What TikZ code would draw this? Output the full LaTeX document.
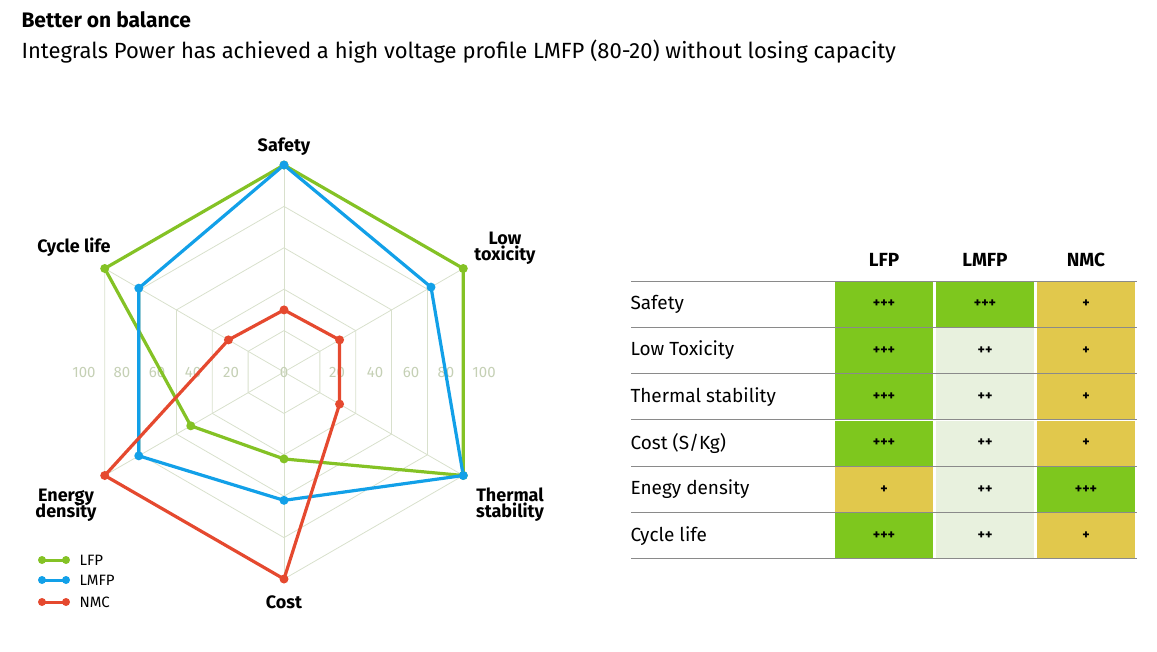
\documentclass[tikz,border=0pt]{standalone}
\usepackage{fontspec}
\setmainfont{Fira Sans}
\definecolor{lfpc}{HTML}{84C225}
\definecolor{lmfpc}{HTML}{12A0E8}
\definecolor{nmcc}{HTML}{E5492F}
\definecolor{gridc}{HTML}{D8E0CC}
\definecolor{numc}{HTML}{C5D0B5}
\definecolor{cg}{HTML}{7EC71E}
\definecolor{cl}{HTML}{E8F1DE}
\definecolor{cy}{HTML}{E1C84C}
\definecolor{rulec}{HTML}{8A8A8A}
\begin{document}
\begin{tikzpicture}[x=1pt,y=1pt,
  series/.style={line width=3.2pt,line join=round},
  dot/.style={circle,fill,inner sep=0pt,minimum size=9pt},
  axlab/.style={font=\fontsize{18}{19}\selectfont\bfseries,align=center},
  num/.style={text=numc,font=\fontsize{15}{16}\selectfont},
  cell/.style={minimum width=98pt,minimum height=45pt,inner sep=0pt,font=\fontsize{14}{15}\selectfont\bfseries},
  rowlab/.style={anchor=west,font=\fontsize{19}{20}\selectfont},
  hdr/.style={font=\fontsize{19}{20}\selectfont\bfseries}]
\useasboundingbox (0,0) rectangle (1157,-651);
\node[anchor=west,font=\fontsize{21}{22}\selectfont\bfseries] (title) at (18,-20) {Better on balance};
\node[anchor=west,font=\fontsize{22}{23}\selectfont] (sub) at (18,-52) {Integrals Power has achieved a high voltage profile LMFP (80-20) without losing capacity};
\begin{scope}[shift={(284,-372)}]
  \foreach \r in {1,2,3,4,5}{
    \draw[gridc,line width=0.8pt] (90:\r*41.4pt)--(30:\r*41.4pt)--(-30:\r*41.4pt)--(-90:\r*41.4pt)--(-150:\r*41.4pt)--(150:\r*41.4pt)--cycle;}
  \foreach \a in {90,30,-30,-90,-150,150}{\draw[gridc,line width=0.8pt] (0,0)--(\a:207pt);}
  \node[num] (n0) at (0,0) {0};
  \foreach \v/\d in {20/53,40/91,60/127,80/162,100/200}{
    \node[num] (nr\v) at (\d,0) {\v};
    \node[num] (nl\v) at (-\d,0) {\v};}
  \foreach \n/\a/\v in {1/90/100,2/30/100,3/-30/100,4/-90/42,5/-150/52,6/150/100}{\coordinate (l\n) at (\a:\v*2.07pt);}
  \foreach \n/\a/\v in {1/90/100,2/30/82,3/-30/100,4/-90/62,5/-150/81,6/150/81}{\coordinate (m\n) at (\a:\v*2.07pt);}
  \foreach \n/\a/\v in {1/90/30,2/30/31,3/-30/31,4/-90/100,5/-150/100,6/150/31}{\coordinate (c\n) at (\a:\v*2.07pt);}
  \draw[series,lfpc] (l1)--(l2)--(l3)--(l4)--(l5)--(l6)--cycle;
  \draw[series,lmfpc] (m1)--(m2)--(m3)--(m4)--(m5)--(m6)--cycle;
  \draw[series,nmcc] (c1)--(c2)--(c3)--(c4)--(c5)--(c6)--cycle;
  \foreach \n in {1,...,6}{\node[dot,lfpc] (dl\n) at (l\n) {};}
  \foreach \n in {1,...,6}{\node[dot,lmfpc] (dm\n) at (m\n) {};}
  \foreach \n in {1,...,6}{\node[dot,nmcc] (dc\n) at (c\n) {};}
\end{scope}
\node[axlab] (aS) at (284,-147) {Safety};
\node[axlab] (aL) at (505,-248) {Low\\[-3pt]toxicity};
\node[axlab] (aT) at (510,-505) {Thermal\\[-3pt]stability};
\node[axlab] (aC) at (284,-602) {Cost};
\node[axlab] (aE) at (66,-505) {Energy\\[-3pt]density};
\node[axlab] (aY) at (74,-247) {Cycle life};
\foreach \y/\c/\t/\k in {-560/lfpc/LFP/a,-580/lmfpc/LMFP/b,-602/nmcc/NMC/c}{
  \coordinate (g\k1) at (42,\y); \coordinate (g\k2) at (66,\y);
  \draw[\c,line width=3pt] (g\k1)--(g\k2);
  \node[dot,\c,minimum size=8pt] (gd\k1) at (g\k1) {};
  \node[dot,\c,minimum size=8pt] (gd\k2) at (g\k2) {};
  \node[anchor=west,font=\fontsize{15}{16}\selectfont] (gt\k) at (76,\y) {\t};}
\node[hdr] (h1) at (884,-260) {LFP};
\node[hdr] (h2) at (985,-260) {LMFP};
\node[hdr] (h3) at (1086,-260) {NMC};
\foreach \i/\lab/\a/\ca/\b/\cb/\c/\cc in {
  1/Safety/+++/cg/+++/cg/+/cy,
  2/Low Toxicity/+++/cg/++/cl/+/cy,
  3/Thermal stability/+++/cg/++/cl/+/cy,
  4/{Cost (S/Kg)}/+++/cg/++/cl/+/cy,
  5/Enegy density/+/cy/++/cl/+++/cg,
  6/Cycle life/+++/cg/++/cl/+/cy}{
  \pgfmathsetmacro\yc{-281-46.3*\i+23.15}
  \node[cell,fill=\ca] (t\i a) at (884,\yc) {\a};
  \node[cell,fill=\cb] (t\i b) at (985,\yc) {\b};
  \node[cell,fill=\cc] (t\i c) at (1086,\yc) {\c};
  \node[rowlab] (t\i l) at (627,\yc) {\lab};}
\foreach \i in {0,...,6}{
  \pgfmathsetmacro\yl{-281-46.3*\i}
  \coordinate (rl\i) at (631,\yl); \coordinate (rr\i) at (1137,\yl);
  \draw[rulec,line width=1pt] (rl\i)--(rr\i);}
\end{tikzpicture}
\end{document}
